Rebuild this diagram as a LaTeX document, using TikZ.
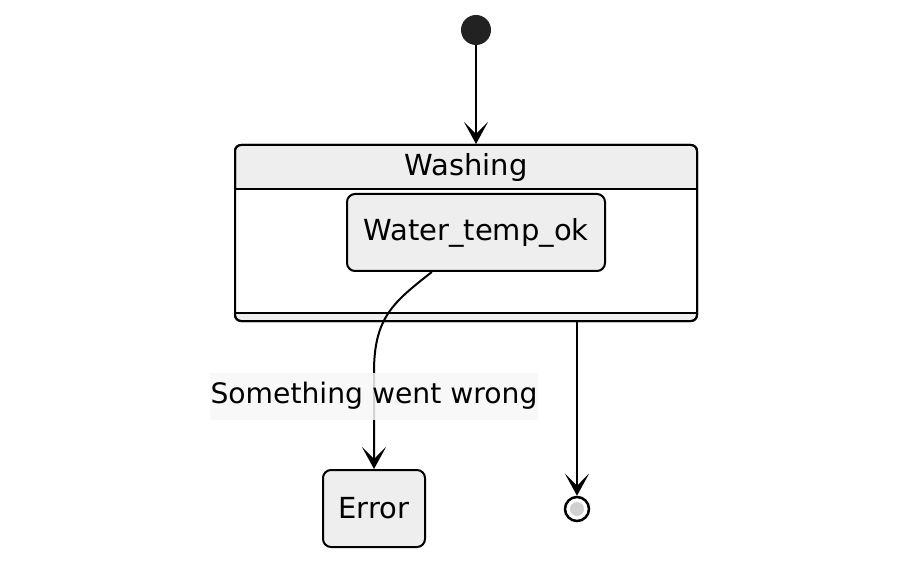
\documentclass[tikz,border=0pt]{standalone}
\usepackage{fontspec}
\setmainfont{DejaVu Sans}
\usepackage{xcolor}
\usetikzlibrary{arrows.meta,positioning,calc}
\definecolor{stbg}{HTML}{EEEEEE}
\definecolor{lblbg}{HTML}{F7F7F7}
\definecolor{dot}{HTML}{222222}
\definecolor{endbg}{HTML}{D0D0D0}
\tikzset{
  st/.style    ={draw, rectangle, rounded corners=8pt, fill=stbg, line width=2pt,
                 font=\fontsize{29}{34}\selectfont, inner sep=0pt},
  cmp/.style   ={draw, rectangle, rounded corners=6pt, line width=2pt, inner sep=0pt},
  lbl/.style   ={fill=lblbg, fill opacity=0.85, text opacity=1, inner xsep=1pt,
                 minimum height=47pt, font=\fontsize{28.2}{34}\selectfont},
  ar/.style    ={-{Stealth[length=22pt, width=24pt, inset=12pt]}, line width=2pt},
}
\begin{document}
\begin{tikzpicture}[x=1pt,y=-1pt]
\useasboundingbox (0,0) rectangle (908,564);
% composite state
\node[cmp, fill=stbg, minimum width=462pt, minimum height=176pt] (wash) at (466,233) {};
\fill[white] (236,189) rectangle (696,313);
\draw[line width=2pt] (wash.west |- 0,189) -- (wash.east |- 0,189);
\draw[line width=2pt] (wash.west |- 0,313) -- (wash.east |- 0,313);
\node[cmp, minimum width=462pt, minimum height=176pt] at (466,233) {};
\node[font=\fontsize{29}{34}\selectfont] (washt) at (466,168) {Washing};
\node[st, minimum width=258pt, minimum height=77pt] (wtok) at (476,232.5) {Water\_temp\_ok};
% pseudo states
\node[circle, fill=dot, minimum size=30pt, inner sep=0pt] (start) at (476,30) {};
\node[circle, draw, line width=2.5pt, fill=white, minimum size=24pt, inner sep=0pt] (fin) at (577,509) {};
\fill[endbg] (fin) circle (7pt);
\node[st, minimum width=102pt, minimum height=77pt] (err) at (374,508.5) {Error};
% transitions
\draw[ar] (start) -- (start |- wash.north);
\coordinate (wtokout) at ($(wtok.south west)!0.33!(wtok.south east)$);
\draw[ar] (wtokout) .. controls +(-38,30) and +(0,-55) .. (374,372) -- (err.north);
\node[lbl] (lblerr) at (374,396) {Something went wrong};
\draw[ar] (fin |- wash.south) -- (fin.north);
\end{tikzpicture}
\end{document}
